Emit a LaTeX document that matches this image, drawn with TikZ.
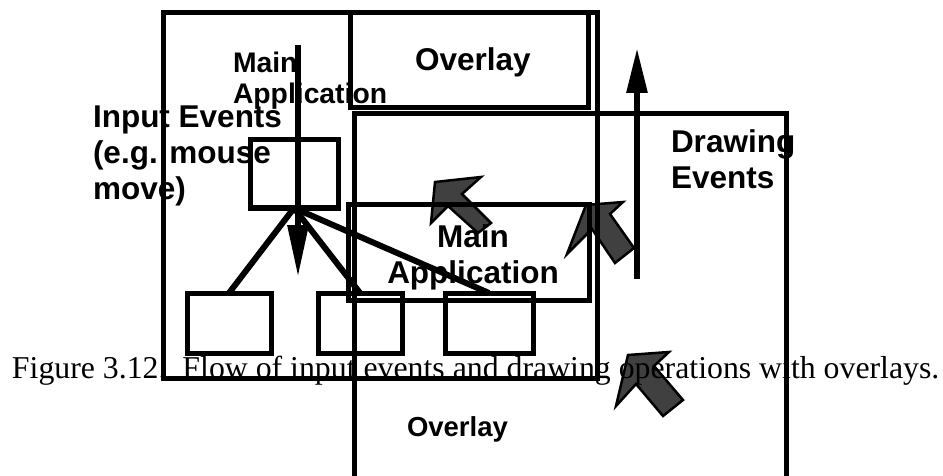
\documentclass[tikz,border=0pt]{standalone}
\usepackage{fontspec}
\setmainfont{Liberation Serif}
\newfontfamily\hvfont{Liberation Sans}
\usetikzlibrary{arrows.meta}
\definecolor{arrowgray}{HTML}{404040}
\begin{document}
\begin{tikzpicture}[x=1pt,y=-1pt,
  box/.style={draw,line width=5pt,inner sep=0pt,outer sep=0pt},
  lbl/.style={inner sep=0pt,outer sep=0pt},
  bigfont/.style={font=\hvfont\bfseries\fontsize{31.5}{36}\selectfont},
  link/.style={line width=6pt},
  garrow/.style={fill=arrowgray,draw=black,line width=2.5pt,line join=miter}]
\useasboundingbox (0,0) rectangle (943,476);
\clip (0,0) rectangle (943,476);
% gray block arrows
\draw[garrow] (435,182) -- (481,177) -- (462,194) -- (491,223) -- (478,233) -- (448,206) -- (431,223) -- cycle;
\draw[garrow] (586,205) -- (623,202) -- (610,214) -- (634,248) -- (615,263) -- (592,229) -- (567,254) -- cycle;
\draw[garrow] (628,355) -- (669,352) -- (654,366) -- (683,400) -- (663,416) -- (636,384) -- (616,406) -- cycle;
% texts
\node[lbl,font=\hvfont\bfseries\fontsize{28.3}{31}\selectfont,align=left,anchor=north west] (mainlbl) at (233,52) {Main\\Application};
\node[lbl,bigfont,anchor=base west] (ovlbl) at (415,71) {Overlay};
\node[lbl,bigfont,align=left,anchor=north west] (inlbl) at (93,106) {Input Events\\(e.g. mouse\\move)};
\node[lbl,bigfont,align=center,anchor=north] (mainlbl2) at (473,225) {Main\\Application};
\node[lbl,bigfont,align=left,anchor=north west] (drawlbl) at (671,130) {Drawing\\Events};
\node[lbl,font=\hvfont\bfseries\fontsize{27.5}{33}\selectfont,anchor=base west] (ovlbl2) at (407,436) {Overlay};
\node[lbl,font=\fontsize{31.8}{38}\selectfont,anchor=base west] (caption) at (12,378) {Figure 3.12.\ \ Flow of input events and drawing operations with overlays.};
% windows
\node[box,minimum width=434pt,minimum height=365pt] (mainwin) at (380,195.5) {};
\node[box,minimum width=238pt,minimum height=95pt] (topov) at (469,60.5) {};
\node[box,minimum width=432pt,minimum height=386pt] (ovwin) at (570,307) {};
\node[box,minimum width=241pt,minimum height=95pt] (mainin) at (468.5,252.5) {};
% tree
\node[box,minimum width=88pt,minimum height=68pt] (root) at (294,174) {};
\node[box,minimum width=84pt,minimum height=60pt] (c1) at (229,323) {};
\node[box,minimum width=84pt,minimum height=60pt] (c2) at (360,323) {};
\node[box,minimum width=88pt,minimum height=60pt] (c3) at (489,323) {};
\draw[link] (root.south) -- (c1.north);
\draw[link] (root.south) -- (c2.north);
\draw[link] (root.south) -- (c3.north);
% event arrows
\coordinate (inTop) at (298,45);
\coordinate (inBot) at (298,277);
\draw[line width=6pt,-{Triangle[length=52pt,width=20pt]}] (inTop) -- (inBot);
\coordinate (drBot) at (637,279);
\coordinate (drTop) at (637,48);
\draw[line width=6pt,-{Triangle[length=45pt,width=20pt]}] (drBot) -- (drTop);
\end{tikzpicture}
\end{document}
